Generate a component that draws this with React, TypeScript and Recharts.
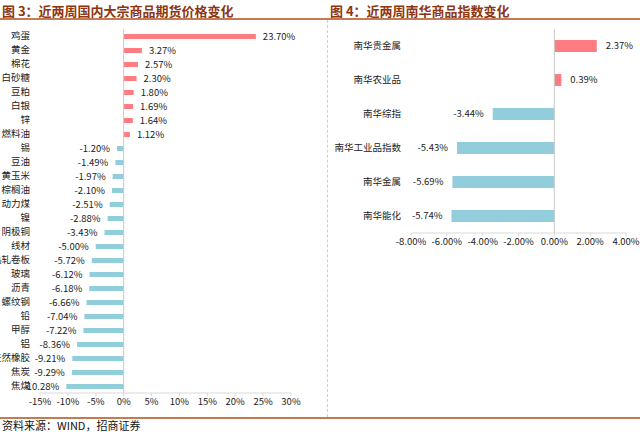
import { BarChart, Bar, XAxis, YAxis, ReferenceLine, LabelList, Cell } from "recharts";

const futuresNames = [
  "鸡蛋", "黄金", "棉花", "白砂糖", "豆粕", "白银", "锌", "燃料油", "锡", "豆油",
  "黄玉米", "棕榈油", "动力煤", "镍", "阴极铜", "线材", "热轧卷板", "玻璃", "沥青",
  "螺纹钢", "铅", "甲醇", "铝", "天然橡胶", "焦炭", "焦煤",
];
const futuresChange = [
  23.7, 3.27, 2.57, 2.3, 1.8, 1.69, 1.64, 1.12, -1.2, -1.49,
  -1.97, -2.1, -2.51, -2.88, -3.43, -5.0, -5.72, -6.12, -6.18,
  -6.66, -7.04, -7.22, -8.36, -9.21, -9.29, -10.28,
];
const futuresTicks = [-15, -10, -5, 0, 5, 10, 15, 20, 25, 30];

const nanhuaNames = ["南华贵金属", "南华农业品", "南华综指", "南华工业品指数", "南华金属", "南华能化"];
const nanhuaChange = [2.37, 0.39, -3.44, -5.43, -5.69, -5.74];
const nanhuaTicks = [-8, -6, -4, -2, 0, 2, 4];

const UP = "#FF7C80";
const DOWN = "#92CDDC";
const FONT = "'Noto Sans CJK SC', 'DejaVu Sans', sans-serif";
const RULE = "#C47A55";

const futuresData = futuresNames.map((name, i) => ({ name, value: futuresChange[i] }));
const nanhuaData = nanhuaNames.map((name, i) => ({ name, value: nanhuaChange[i] }));

// value label sits outside the bar end, on the side the bar points to
function ValueLabel(props: any) {
  const { x, y, width, height, value, gap } = props;
  const left = Math.min(x, x + width);
  const right = Math.max(x, x + width);
  const pos = value >= 0;
  return (
    <text
      x={pos ? right + gap : left - gap}
      y={y + height / 2}
      dy="0.35em"
      textAnchor={pos ? "start" : "end"}
      fontSize={9.5}
      fontFamily={FONT}
      fill="#222"
    >
      {value.toFixed(2)}%
    </text>
  );
}

function FuturesChart() {
  return (
    <BarChart
      width={320}
      height={420}
      data={futuresData}
      layout="vertical"
      margin={{ top: 29, right: 29, bottom: 7, left: 8 }}
    >
      <XAxis
        type="number"
        domain={[-15, 30]}
        ticks={futuresTicks}
        tickFormatter={(v) => `${v}%`}
        axisLine={{ stroke: "#d9d9d9" }}
        tickLine={{ stroke: "#d9d9d9" }}
        tickSize={3}
        height={20}
        tick={{ fontSize: 9.5, fill: "#222", fontFamily: FONT }}
      />
      <YAxis
        type="category"
        dataKey="name"
        width={32}
        axisLine={false}
        tickLine={false}
        tickSize={0}
        tickMargin={10}
        interval={0}
        tick={{ fontSize: 9.5, fill: "#222", fontFamily: FONT }}
      />
      <ReferenceLine x={0} stroke="#c8c8c8" />
      <Bar dataKey="value" barSize={5} isAnimationActive={false}>
        {futuresData.map((d, i) => (
          <Cell key={i} fill={d.value >= 0 ? UP : DOWN} />
        ))}
        <LabelList dataKey="value" content={(p: any) => <ValueLabel {...p} gap={7} />} />
      </Bar>
    </BarChart>
  );
}

function NanhuaChart() {
  return (
    <BarChart
      width={320}
      height={260}
      data={nanhuaData}
      layout="vertical"
      margin={{ top: 29, right: 14, bottom: 7, left: 0 }}
    >
      <XAxis
        type="number"
        domain={[-8, 4]}
        ticks={nanhuaTicks}
        tickFormatter={(v) => `${v.toFixed(2)}%`}
        axisLine={{ stroke: "#d9d9d9" }}
        tickLine={{ stroke: "#d9d9d9" }}
        tickSize={3}
        height={20}
        tick={{ fontSize: 9.5, fill: "#222", fontFamily: FONT }}
      />
      <YAxis
        type="category"
        dataKey="name"
        width={91}
        axisLine={false}
        tickLine={false}
        tickSize={0}
        tickMargin={10}
        interval={0}
        tick={{ fontSize: 9.5, fill: "#222", fontFamily: FONT }}
      />
      <ReferenceLine x={0} stroke="#c8c8c8" />
      <Bar dataKey="value" barSize={12} isAnimationActive={false}>
        {nanhuaData.map((d, i) => (
          <Cell key={i} fill={d.value >= 0 ? UP : DOWN} />
        ))}
        <LabelList dataKey="value" content={(p: any) => <ValueLabel {...p} gap={9} />} />
      </Bar>
    </BarChart>
  );
}

export default function App() {
  const titleStyle: React.CSSProperties = {
    position: "absolute",
    top: 1,
    fontSize: 13,
    fontWeight: 700,
    color: "#8E3512",
    fontFamily: FONT,
    whiteSpace: "nowrap",
  };
  return (
    <div
      style={{
        position: "absolute",
        left: 0,
        top: 0,
        width: 640,
        height: 432,
        background: "#fff",
        overflow: "hidden",
        fontFamily: FONT,
      }}
    >
      <div style={{ ...titleStyle, left: 2 }}>图 3：近两周国内大宗商品期货价格变化</div>
      <div style={{ ...titleStyle, left: 330 }}>图 4：近两周南华商品指数变化</div>
      <div style={{ position: "absolute", left: 0, top: 18, width: 640, height: 2, background: RULE }} />
      <div
        style={{
          position: "absolute",
          left: 327,
          top: 20,
          height: 397,
          borderLeft: "1px dashed #cfcfcf",
        }}
      />
      <div style={{ position: "absolute", left: 0, top: 0 }}>
        <FuturesChart />
      </div>
      <div style={{ position: "absolute", left: 320, top: 0 }}>
        <NanhuaChart />
      </div>
      <div style={{ position: "absolute", left: 0, top: 417, width: 640, height: 2, background: RULE }} />
      <div
        style={{
          position: "absolute",
          left: 2,
          top: 419,
          fontSize: 11,
          lineHeight: "13px",
          color: "#111",
          fontFamily: FONT,
          whiteSpace: "nowrap",
        }}
      >
        资料来源：WIND，招商证券
      </div>
    </div>
  );
}
